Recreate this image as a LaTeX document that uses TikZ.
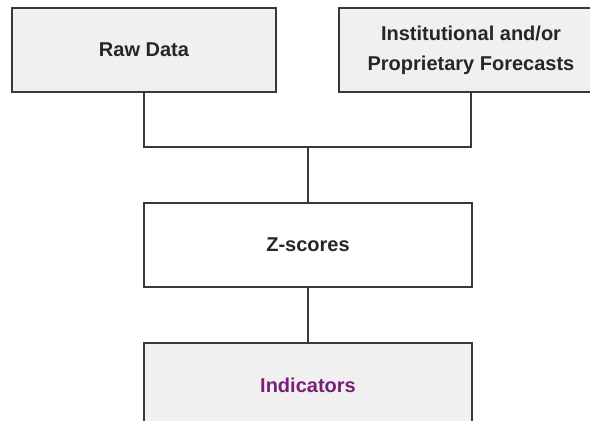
\documentclass[tikz,border=0pt]{standalone}
\usepackage{fontspec}
\setmainfont{Liberation Sans}
\definecolor{boxfill}{HTML}{F0F0F0}
\definecolor{boxline}{HTML}{383838}
\definecolor{indtext}{HTML}{7B1E7A}
\begin{document}
\begin{tikzpicture}[x=0.75pt, y=-0.75pt, line width=1.1pt, draw=boxline, nodes = {align = center}]

  \tikzstyle{source}=[draw=boxline, rectangle, minimum height=63pt, minimum width=198pt, fill=boxfill, font=\fontsize{15}{22.5}\selectfont\bfseries, text=black!85]
  \tikzstyle{score}=[draw=boxline, rectangle, minimum height=63pt, minimum width=246pt, fill=white, font=\fontsize{15}{22.5}\selectfont\bfseries, text=black!85]
  \tikzstyle{result}=[score, fill=boxfill, text=indtext]

  % Page
  \useasboundingbox (0,0) rectangle (590,421);
  \clip (0,0) rectangle (590,421);

  % Inputs
  \node[source] (raw) at (144,50) {Raw Data};
  \node[source] (fcst) at (471,50) {Institutional and/or\\Proprietary Forecasts};

  % Scores and indicators
  \node[score] (zsc) at (308,245) {Z-scores};
  \node[result] (ind) at (308,385) {Indicators};

  % Joint
  \coordinate (bus) at (308,147);

  % Lines between boxes
  \draw (raw.south) |- (bus) -| (fcst.south);
  \draw (bus) -- (zsc);
  \draw (zsc) -- (ind);

\end{tikzpicture}
\end{document}
